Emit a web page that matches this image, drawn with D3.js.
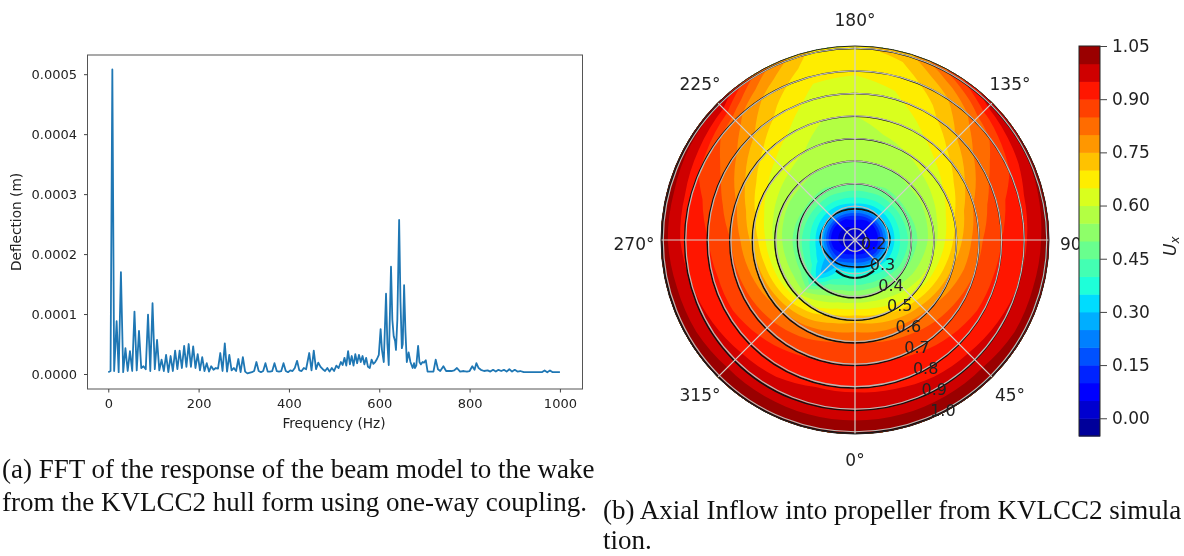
<!DOCTYPE html>
<html>
<head>
<meta charset="utf-8">
<script src="https://cdn.jsdelivr.net/npm/d3@7"></script>
<style>
  html, body { margin: 0; padding: 0; background: #fff; overflow: hidden; }
  text { font-family: "DejaVu Sans", sans-serif; fill: #222; }
  .caption { font-family: "Liberation Serif", serif; font-size: 27px; fill: #111; }
  .domain { stroke: #555; }
  .tick line { stroke: #444; }
  #plots { filter: blur(0.55px); }
</style>
</head>
<body>
<svg id="chart" width="1184" height="556"></svg>
<script>
// FFT spectrum, deflection in units of 1e-4 m
var freqHz = [0,5,9,13,18.5,23,28,33,38,43,48,53,58,63,68,73,78,83,88,93,98,103,108,113,118,123,128,133,138,143,148,153,158,163,168,173,178,183,188,193,198,203,208,213,218,223,228,233,238,243,248,253,258,263,268,273,278,283,288,293,298,303,308,318,323,328,333,338,343,348,353,358,363,368,373,378,383,388,393,398,403,408,413,418,423,428,433,438,445,450,455,460,465,470,475,480,485,490,495,500,505,510,515,519,523,527,531,535,539,543,547,551,555,559,563,567,571,575,579,583,587,591,595,599,603,606,610,615,618,621,626,629,632,635,637,640,644,647,650,652,655,658,661,665,669,674,677,679,682,686,689,692,696,699,703,707,712,720,725,730,735,742,748,753,760,766,772,779,787,794,800,806,811,815,820,825,832,840,846,852,858,864,870,876,882,888,894,900,906,912,920,930,945,960,966,972,978,984,990,1000];
var deflection = [.03,.05,5.08,.05,.88,.03,1.70,.03,.43,.05,.38,.05,1.04,.06,.72,.1,.13,.08,.99,.05,1.18,.08,.57,.06,.24,.05,.32,.03,.30,.05,.39,.08,.39,.1,.47,.12,.5,.12,.46,.1,.33,.06,.28,.05,.18,.04,.13,.07,.1,.09,.35,.05,.51,.04,.32,.06,.1,.05,.25,.03,.28,.04,.01,.03,.05,.2,.05,.03,.05,.18,.04,.04,.05,.18,.05,.04,.05,.18,.05,.03,.06,.05,.1,.22,.06,.05,.1,.08,.35,.06,.39,.08,.19,.12,.08,.05,.1,.04,.1,.05,.14,.1,.2,.15,.27,.14,.38,.16,.3,.14,.33,.18,.32,.2,.3,.16,.27,.12,.1,.24,.17,.2,.25,.32,.75,.4,.2,1.34,.5,.15,1.79,.9,.63,.55,.4,.9,2.57,1.2,.43,.5,1.48,.7,.2,.36,.2,.1,.18,.1,.14,.47,.2,.16,.2,.19,.23,.04,.04,.04,.24,.08,.05,.13,.05,.05,.05,.06,.1,.04,.05,.04,.05,.13,.07,.18,.1,.07,.05,.06,.04,.07,.04,.07,.05,.07,.04,.08,.04,.07,.04,.05,.03,.03,.03,.03,.06,.03,.06,.03,.03,.03];
var freqTicks = [0,200,400,600,800,1000];
var deflectionTicks = [0,1,2,3,4,5];

// axial inflow Ux: one row per angle (deg, 0 at the bottom), one value per radius
var fieldRadii = [.15,.2,.25,.3,.35,.4,.5,.6,.7,.8,.9,.95,1.0,1.06];
var fieldAngles = [0,15,30,45,60,75,90,105,120,135,150,165,180,195,210,225,240,255,270,285,300,315,330,345];
var fieldValues = [
  [.02,.06,.20,.38,.45,.55,.73,.85,.90,.94,.98,1.00,1.03,1.04],
  [.02,.06,.19,.37,.45,.55,.71,.84,.90,.94,.97,1.00,1.03,1.04],
  [.02,.05,.17,.36,.44,.54,.68,.83,.89,.93,.97,1.00,1.03,1.04],
  [.02,.05,.15,.34,.42,.51,.65,.81,.88,.92,.97,1.00,1.03,1.04],
  [.02,.05,.12,.32,.40,.49,.62,.78,.87,.91,.96,.99,1.02,1.03],
  [.02,.05,.10,.31,.40,.48,.60,.75,.85,.91,.95,.99,1.02,1.03],
  [.02,.04,.09,.30,.40,.47,.58,.72,.84,.90,.94,.98,1.02,1.03],
  [.02,.04,.09,.30,.40,.48,.57,.69,.81,.88,.93,.97,1.01,1.03],
  [.02,.04,.09,.30,.40,.49,.56,.65,.74,.83,.88,.94,1.00,1.02],
  [.02,.04,.09,.30,.41,.49,.56,.62,.68,.76,.82,.89,.98,1.00],
  [.02,.04,.10,.31,.41,.49,.55,.60,.64,.68,.73,.78,.86,.88],
  [.02,.04,.11,.32,.42,.50,.55,.59,.62,.64,.67,.69,.72,.74],
  [.02,.04,.12,.33,.42,.50,.55,.58,.60,.63,.655,.67,.69,.70],
  [.02,.04,.11,.32,.42,.50,.55,.58,.60,.63,.66,.68,.70,.72],
  [.02,.03,.09,.31,.41,.49,.55,.60,.64,.68,.73,.77,.82,.84],
  [.02,.03,.08,.30,.41,.49,.56,.62,.68,.76,.82,.90,1.00,1.02],
  [.02,.03,.07,.30,.40,.49,.56,.65,.74,.83,.88,.95,1.01,1.02],
  [.02,.03,.07,.30,.40,.48,.57,.69,.81,.88,.92,.97,1.02,1.03],
  [.02,.03,.07,.30,.40,.47,.58,.73,.85,.90,.93,.97,1.02,1.03],
  [.02,.03,.09,.30,.39,.47,.59,.76,.86,.91,.95,.99,1.02,1.03],
  [.02,.04,.11,.30,.36,.46,.60,.78,.87,.91,.96,.99,1.03,1.04],
  [.02,.05,.13,.26,.28,.36,.62,.80,.88,.92,.97,1.00,1.03,1.04],
  [.02,.05,.16,.33,.40,.50,.66,.82,.89,.93,.97,1.00,1.03,1.04],
  [.02,.06,.19,.37,.44,.54,.71,.84,.90,.94,.98,1.00,1.03,1.04]
];
var fieldLevels = [-.05,0,.05,.1,.15,.2,.25,.3,.35,.4,.45,.5,.55,.6,.65,.7,.75,.8,.85,.9,.95,1,1.05];
var colorbarTicks = [0,.15,.30,.45,.60,.75,.90,1.05];

var gridRadii = [.2,.3,.4,.5,.6,.7,.8,.9,1.0];
var ringRadii = [.4,.5,.6,.7,.8,.9,1.0];
var innerRingAngles = [0,45,90,135,180,225,270,315];
var innerRingRadii = [.27,.288,.305,.296,.288,.296,.305,.283];
var lowerArcAngles = [-32,-16,0,16,32];
var lowerArcRadii = [.31,.316,.318,.316,.31];
var ringLabels = ["0.2","0.3","0.4","0.5","0.6","0.7","0.8","0.9","1.0"];
var angleTicks = [0,45,90,135,180,225,270,315];
var captionA = ["(a) FFT of the response of the beam model to the wake", "from the KVLCC2 hull form using one-way coupling."];
var captionB = ["(b) Axial Inflow into propeller from KVLCC2 simula", "tion."];

var root = d3.select("#chart");
var svg = root.append("g").attr("id", "plots");

// ---- left panel: spectrum
var x = d3.scaleLinear().domain([-46, 1050]).range([87.5, 582.5]);
var y = d3.scaleLinear().domain([-0.25, 5.32]).range([389, 55]);

svg.append("path")
  .datum(d3.zip(freqHz, deflection))
  .attr("fill", "none")
  .attr("stroke", "#1f77b4")
  .attr("stroke-width", 1.8)
  .attr("stroke-linejoin", "round")
  .attr("d", d3.line().x(function (d) { return x(d[0]); }).y(function (d) { return y(d[1]); }));

svg.append("rect")
  .attr("x", 87.5).attr("y", 55).attr("width", 495).attr("height", 334)
  .attr("fill", "none").attr("stroke", "#555");

var xAxis = svg.append("g").attr("transform", "translate(0,389)")
  .call(d3.axisBottom(x).tickValues(freqTicks).tickSize(3.5).tickPadding(6).tickFormat(d3.format("d")));
xAxis.select(".domain").remove();
xAxis.selectAll("text").style("font-size", "13px");

var yAxis = svg.append("g").attr("transform", "translate(87.5,0)")
  .call(d3.axisLeft(y).tickValues(deflectionTicks).tickSize(3.5).tickPadding(7)
    .tickFormat(function (d) { return (d / 1e4).toFixed(4); }));
yAxis.select(".domain").remove();
yAxis.selectAll("text").style("font-size", "13px");

svg.append("text").attr("x", 334).attr("y", 428).attr("text-anchor", "middle")
  .style("font-size", "13.7px").text("Frequency (Hz)");
svg.append("text").attr("transform", "translate(21,222) rotate(-90)").attr("text-anchor", "middle")
  .style("font-size", "13.7px").text("Deflection (m)");

// ---- right panel: polar contour
var cx = 855, cy = 240, outerR = 194;
var radius = d3.scaleLinear().domain([0.15, 1.01]).range([0, outerR]);

// matplotlib jet
var jetR = d3.scaleLinear().domain([0,.35,.66,.89,1]).range([0,0,1,1,.5]);
var jetG = d3.scaleLinear().domain([0,.125,.375,.64,.91,1]).range([0,0,1,1,0,0]);
var jetB = d3.scaleLinear().domain([0,.11,.34,.65,1]).range([.5,1,1,0,0]);
function jet(t) {
  return d3.rgb(jetR(t) * 255, jetG(t) * 255, jetB(t) * 255).toString();
}
function bandColor(i) {
  var lo = fieldLevels[i], hi = fieldLevels[i + 1];
  return jet(((lo + hi) / 2 + 0.05) / 1.1);
}

function polar(angleDeg, r) {
  var a = angleDeg * Math.PI / 180;
  return [cx + radius(r) * Math.sin(a), cy + radius(r) * Math.cos(a)];
}

// grid wrapped by a column on each side so the seam at 0 deg does not show
var wrapped = [fieldValues[23]].concat(fieldValues, [fieldValues[0], fieldValues[1]]);
var wrappedAngles = [fieldAngles[23] - 360].concat(fieldAngles, [360, 375]);
var nA = wrapped.length, nR = fieldRadii.length;
var flat = [];
for (var j = 0; j < nR; j++) for (var i = 0; i < nA; i++) flat.push(wrapped[i][j]);

var angleOf = d3.scaleLinear().domain(d3.range(nA)).range(wrappedAngles).clamp(true);
var radiusOf = d3.scaleLinear().domain(d3.range(nR)).range(fieldRadii).clamp(true);

function ringPath(ring) {
  var pts = [];
  for (var k = 0; k < ring.length - 1; k++) {
    var a = ring[k], b = ring[k + 1];
    for (var s = 0; s < 4; s++) {
      var u = a[0] + (b[0] - a[0]) * s / 4 - 0.5;
      var v = a[1] + (b[1] - a[1]) * s / 4 - 0.5;
      pts.push(polar(angleOf(u), radiusOf(v)));
    }
  }
  return "M" + pts.join("L") + "Z";
}

root.append("defs").append("clipPath").attr("id", "disc").append("circle")
  .attr("cx", cx).attr("cy", cy).attr("r", outerR);

var disc = svg.append("g").attr("clip-path", "url(#disc)");
disc.append("circle").attr("cx", cx).attr("cy", cy).attr("r", outerR).attr("fill", bandColor(0));

var contours = d3.contours().size([nA, nR]).smooth(true)
  .thresholds(fieldLevels.slice(0, -1))(flat);

disc.selectAll("path.band").data(contours).join("path")
  .attr("class", "band")
  .attr("fill", function (d, i) { return bandColor(i); })
  .attr("d", function (d) {
    return d.coordinates.map(function (poly) { return poly.map(ringPath).join(""); }).join("");
  });

// black iso-radius lines, a little off the grid circles
disc.selectAll("circle.ring").data(ringRadii).join("circle")
  .attr("class", "ring")
  .attr("cx", cx - 0.6).attr("cy", cy + 0.8)
  .attr("r", function (d) { return radius(d) + 0.6; })
  .attr("fill", "none").attr("stroke", "#111").attr("stroke-width", 1.5);

var radial = d3.lineRadial()
  .angle(function (d) { return Math.PI - d[0] * Math.PI / 180; })
  .radius(function (d) { return radius(d[1]); });

disc.append("path")
  .attr("transform", "translate(" + cx + "," + cy + ")")
  .attr("d", radial.curve(d3.curveCardinalClosed)(d3.zip(innerRingAngles, innerRingRadii)))
  .attr("fill", "none").attr("stroke", "#111").attr("stroke-width", 1.6);
disc.append("path")
  .attr("transform", "translate(" + cx + "," + cy + ")")
  .attr("d", radial.curve(d3.curveCardinal)(d3.zip(lowerArcAngles, lowerArcRadii)))
  .attr("fill", "none").attr("stroke", "#111").attr("stroke-width", 2);

// grid on top
disc.selectAll("circle.grid").data(gridRadii).join("circle")
  .attr("class", "grid")
  .attr("cx", cx).attr("cy", cy)
  .attr("r", function (d) { return radius(d); })
  .attr("fill", "none").attr("stroke", "#bdb9b4").attr("stroke-width", 1.2);

disc.selectAll("line.spoke").data(angleTicks).join("line")
  .attr("class", "spoke")
  .attr("x1", cx).attr("y1", cy)
  .attr("x2", function (d) { return polar(d, 1.01)[0]; })
  .attr("y2", function (d) { return polar(d, 1.01)[1]; })
  .attr("stroke", "#d4d0cc").attr("stroke-width", 1.2);

svg.append("circle").attr("cx", cx).attr("cy", cy).attr("r", outerR)
  .attr("fill", "none").attr("stroke", "#222").attr("stroke-width", 1);

// angle labels around the rim
svg.selectAll("text.angle").data(angleTicks).join("text")
  .attr("class", "angle")
  .attr("x", function (d) {
    if (d === 270) return 634;
    if (d === 90) return 1075;
    return cx + (d % 90 === 0 ? 0 : (d === 45 || d === 135 ? 155 : -155));
  })
  .attr("y", function (d) {
    if (d === 0) return 466;
    if (d === 180) return 26;
    if (d === 90 || d === 270) return 250;
    return d === 45 || d === 315 ? 401 : 90;
  })
  .attr("text-anchor", "middle")
  .style("font-size", "17px")
  .text(function (d) { return d + "\u00b0"; });

// iso-radius labels run along the 22.5 deg line
svg.selectAll("text.ringLabel").data(ringLabels).join("text")
  .attr("class", "ringLabel")
  .attr("x", function (d) { return polar(22.5, +d)[0] + 14.5; })
  .attr("y", function (d) { return polar(22.5, +d)[1] - 1.5; })
  .attr("text-anchor", "middle")
  .style("font-size", "16px")
  .text(function (d) { return d; });

// ---- colorbar, drawn after the labels so it covers the end of "90°"
var barX = 1079, barW = 21;
var cbar = d3.scaleLinear().domain([-0.05, 1.05]).range([436, 46]);

svg.selectAll("rect.band").data(d3.range(fieldLevels.length - 1)).join("rect")
  .attr("class", "band")
  .attr("x", barX).attr("width", barW)
  .attr("y", function (i) { return cbar(fieldLevels[i + 1]); })
  .attr("height", function (i) { return cbar(fieldLevels[i]) - cbar(fieldLevels[i + 1]) + 0.5; })
  .attr("fill", function (i) { return bandColor(i); });

svg.append("rect").attr("x", barX).attr("y", 46).attr("width", barW).attr("height", 390)
  .attr("fill", "none").attr("stroke", "#222");

var barAxis = svg.append("g").attr("transform", "translate(" + (barX + barW) + ",0)")
  .call(d3.axisRight(cbar).tickValues(colorbarTicks).tickSize(7).tickPadding(5).tickFormat(d3.format(".2f")));
barAxis.select(".domain").remove();
barAxis.selectAll("text").style("font-size", "17px");

var barLabel = svg.append("text").attr("transform", "translate(1176,256) rotate(-90)")
  .style("font-size", "17px").style("font-style", "italic");
barLabel.append("tspan").text("U");
barLabel.append("tspan").attr("dy", 3).style("font-size", "12px").text("x");

// ---- captions
root.selectAll("text.capA").data(captionA).join("text")
  .attr("class", "caption capA").attr("x", 2)
  .attr("y", function (d, i) { return 478 + i * 33; })
  .text(function (d) { return d; });
root.selectAll("text.capB").data(captionB).join("text")
  .attr("class", "caption capB").attr("x", 603)
  .attr("y", function (d, i) { return 519 + i * 30; })
  .text(function (d) { return d; });
</script>
</body>
</html>
